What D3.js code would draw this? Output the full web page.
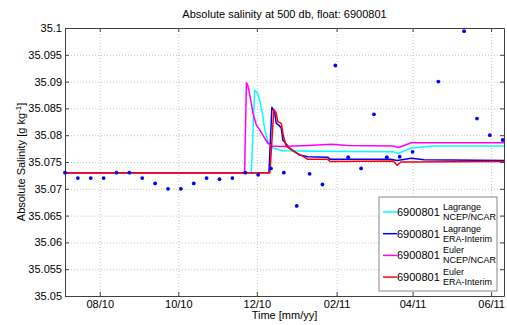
<!DOCTYPE html>
<html>
<head>
<meta charset="utf-8">
<script src="https://cdn.jsdelivr.net/npm/d3@7"></script>
<style>
  body { margin: 0; background: #fff; }
  svg { font-family: "Liberation Sans", Arial, sans-serif; }
</style>
</head>
<body>
<svg id="chart" width="507" height="325"></svg>
<script>
// float profiles (10 day cycle), null = no value in range
var profileDates = ["2010-07-05", "2010-07-15", "2010-07-25", "2010-08-04", "2010-08-14", "2010-08-24",
  "2010-09-03", "2010-09-13", "2010-09-23", "2010-10-03", "2010-10-13", "2010-10-23", "2010-11-02",
  "2010-11-12", "2010-11-22", "2010-12-02", "2010-12-12", "2010-12-22", "2011-01-01", "2011-01-11",
  "2011-01-21", "2011-01-31", "2011-02-10", "2011-02-20", "2011-03-02", "2011-03-12", "2011-03-22",
  "2011-04-01", "2011-04-11", "2011-04-21", "2011-05-01", "2011-05-11", "2011-05-21", "2011-05-31",
  "2011-06-10"];
var profileSA = [35.073, 35.072, 35.072, 35.072, 35.073, 35.073, 35.072, 35.071, 35.070, 35.070,
  35.071, 35.072, 35.0718, 35.072, 35.073, 35.0726, 35.0738, 35.073, 35.0668, 35.0728, 35.0708,
  35.093, 35.0759, 35.0738, 35.0839, 35.0759, 35.076, 35.0769, null, 35.090, null, 35.0994,
  35.0831, 35.080, 35.0791];

// simulated series [time, SA]
var lagrangeNcep = [["2010-07-05 00", 35.073], ["2010-11-26 17", 35.073], ["2010-11-29 07", 35.0884],
  ["2010-12-01 19", 35.0878], ["2010-12-03 17", 35.0860], ["2010-12-05 07", 35.0841],
  ["2010-12-07 00", 35.0813], ["2010-12-09 14", 35.0788], ["2010-12-13 12", 35.0776],
  ["2010-12-21 05", 35.0771], ["2011-01-15 00", 35.0770], ["2011-03-17 00", 35.0769],
  ["2011-03-21 00", 35.0766], ["2011-03-31 00", 35.0776], ["2011-04-16 00", 35.0780],
  ["2011-06-11 00", 35.0780]];
var lagrangeEra = [["2010-07-05 00", 35.073], ["2010-12-10 10", 35.073], ["2010-12-12 17", 35.0852],
  ["2010-12-14 19", 35.0844], ["2010-12-16 02", 35.0822], ["2010-12-18 02", 35.0819],
  ["2010-12-20 00", 35.0813], ["2010-12-21 05", 35.0791], ["2010-12-26 10", 35.0776],
  ["2011-01-03 05", 35.0763], ["2011-01-09 14", 35.0760], ["2011-01-25 00", 35.0759],
  ["2011-01-27 00", 35.0755], ["2011-03-15 00", 35.0755], ["2011-03-20 00", 35.0753],
  ["2011-03-31 00", 35.0757], ["2011-04-10 00", 35.0754], ["2011-06-11 00", 35.0753]];
var eulerNcep = [["2010-07-05 00", 35.073], ["2010-11-21 12", 35.073], ["2010-11-22 22", 35.0898],
  ["2010-11-24 02", 35.0892], ["2010-11-25 10", 35.0876], ["2010-11-26 17", 35.0860],
  ["2010-11-28 00", 35.0841], ["2010-11-30 14", 35.0819], ["2010-12-03 05", 35.0810],
  ["2010-12-05 17", 35.0800], ["2010-12-09 14", 35.0785], ["2010-12-12 05", 35.0780],
  ["2010-12-20 00", 35.0779], ["2011-01-10 00", 35.0781], ["2011-01-28 00", 35.0783],
  ["2011-02-10 00", 35.0781], ["2011-03-17 00", 35.0780], ["2011-03-21 00", 35.0777],
  ["2011-03-31 00", 35.0786], ["2011-06-11 00", 35.0786]];
var eulerEra = [["2010-07-05 00", 35.073], ["2010-12-11 05", 35.073], ["2010-12-14 05", 35.0848],
  ["2010-12-16 02", 35.0841], ["2010-12-17 07", 35.0825], ["2010-12-20 00", 35.0822],
  ["2010-12-21 19", 35.0797], ["2010-12-23 22", 35.0779], ["2010-12-30 07", 35.0769],
  ["2011-01-05 17", 35.0761], ["2011-01-09 14", 35.0755], ["2011-01-25 00", 35.0755],
  ["2011-01-27 00", 35.0751], ["2011-03-17 00", 35.0752], ["2011-03-20 00", 35.0744],
  ["2011-03-23 00", 35.0750], ["2011-06-11 00", 35.0751]];

var seriesNames = ["Lagrange|NCEP/NCAR", "Lagrange|ERA-Interim", "Euler|NCEP/NCAR", "Euler|ERA-Interim"];
var seriesColors = ["#00ffff", "#0000ff", "#ff00ff", "#ff0000"];
var floatId = "6900801";

var xTicks = ["2010-08-01", "2010-10-01", "2010-12-01", "2011-02-01", "2011-04-01", "2011-06-01"];
var xTickLabels = ["08/10", "10/10", "12/10", "02/11", "04/11", "06/11"];
var yTicks = [35.05, 35.055, 35.06, 35.065, 35.07, 35.075, 35.08, 35.085, 35.09, 35.095, 35.1];
var yTickLabels = ["35.05", "35.055", "35.06", "35.065", "35.07", "35.075", "35.08", "35.085", "35.09", "35.095", "35.1"];

var parseDay = d3.timeParse("%Y-%m-%d"),
    parseHour = d3.timeParse("%Y-%m-%d %H");

var margin = { top: 28, right: 3, bottom: 29, left: 65 };
var svg = d3.select("#chart");
var width = 507 - margin.left - margin.right,
    height = 325 - margin.top - margin.bottom;

var x = d3.scaleTime()
    .domain([parseDay("2010-07-05"), parseDay("2011-06-11")])
    .range([0, width]);
var y = d3.scaleLinear().domain([35.05, 35.1]).range([height, 0]);

var g = svg.append("g")
    .attr("transform", "translate(" + margin.left + "," + margin.top + ")");

g.append("defs").append("clipPath").attr("id", "clip")
  .append("rect").attr("width", width).attr("height", height);

var xTickDates = xTicks.map(parseDay);

// grid
g.append("g")
  .attr("transform", "translate(0," + height + ")")
  .call(d3.axisBottom(x).tickValues(xTickDates).tickSize(-height).tickFormat(""))
  .call(function(s) {
    s.select(".domain").remove();
    s.selectAll("line").attr("stroke", "#c4c4c4").attr("stroke-dasharray", "1,2");
  });
g.append("g")
  .call(d3.axisLeft(y).tickValues(yTicks).tickSize(-width).tickFormat(""))
  .call(function(s) {
    s.select(".domain").remove();
    s.selectAll("line").attr("stroke", "#c4c4c4").attr("stroke-dasharray", "1,2");
  });

// lines
var line = d3.line()
    .x(function(d) { return x(parseHour(d[0])); })
    .y(function(d) { return y(d[1]); });

var plot = g.append("g").attr("clip-path", "url(#clip)");
[lagrangeNcep, lagrangeEra, eulerNcep, eulerEra].forEach(function(s, i) {
  plot.append("path")
    .datum(s)
    .attr("fill", "none")
    .attr("stroke", seriesColors[i])
    .attr("stroke-width", 1.5)
    .attr("stroke-linejoin", "round")
    .attr("d", line);
});

// axes (box with inward ticks)
function styleAxis(s) {
  s.select(".domain").attr("stroke", "#404040");
  s.selectAll(".tick line").attr("stroke", "#404040");
  s.selectAll("text").attr("fill", "#000").attr("font-size", 11);
}
g.append("g")
  .attr("transform", "translate(0," + height + ")")
  .call(d3.axisBottom(x).tickValues(xTickDates).tickSize(-4).tickSizeOuter(0).tickPadding(4)
    .tickFormat(function(d, i) { return xTickLabels[i]; }))
  .call(styleAxis);
g.append("g")
  .call(d3.axisTop(x).tickValues(xTickDates).tickSize(-4).tickSizeOuter(0).tickFormat(""))
  .call(styleAxis);
g.append("g")
  .call(d3.axisLeft(y).tickValues(yTicks).tickSize(-4).tickSizeOuter(0).tickPadding(3)
    .tickFormat(function(d, i) { return yTickLabels[i]; }))
  .call(styleAxis);
g.append("g")
  .attr("transform", "translate(" + width + ",0)")
  .call(d3.axisRight(y).tickValues(yTicks).tickSize(-4).tickSizeOuter(0).tickFormat(""))
  .call(styleAxis);

// profile points (not clipped, matlab draws markers over the axes)
var points = profileDates.map(function(d, i) { return { t: parseDay(d), v: profileSA[i] }; })
    .filter(function(d) { return d.v !== null; });
g.selectAll("circle.pt")
  .data(points)
  .enter().append("circle")
    .attr("class", "pt")
    .attr("cx", function(d) { return x(d.t); })
    .attr("cy", function(d) { return y(d.v); })
    .attr("r", 1.9)
    .attr("fill", "#0000ff");

// title and labels
svg.append("text")
  .attr("x", margin.left + width / 2).attr("y", 18)
  .attr("text-anchor", "middle").attr("font-size", 11)
  .text("Absolute salinity at 500 db, float: " + floatId);

svg.append("text")
  .attr("x", margin.left + width / 2).attr("y", 319)
  .attr("text-anchor", "middle").attr("font-size", 11)
  .text("Time [mm/yy]");

var yl = svg.append("text")
  .attr("transform", "translate(25," + (margin.top + height / 2) + ") rotate(-90)")
  .attr("text-anchor", "middle").attr("font-size", 11);
yl.append("tspan").text("Absolute Salinity [g kg");
yl.append("tspan").attr("font-size", 8).attr("dy", -4).text("-1");
yl.append("tspan").attr("dy", 4).text("]");

// legend
var lg = svg.append("g").attr("transform", "translate(379,197)");
lg.append("rect")
  .attr("width", 118).attr("height", 94)
  .attr("fill", "#fff").attr("stroke", "#888").attr("stroke-width", 1);
seriesNames.forEach(function(n, i) {
  var row = lg.append("g").attr("transform", "translate(0," + (15 + i * 21.7) + ")");
  row.append("line")
    .attr("x1", 4).attr("x2", 18).attr("y1", 0).attr("y2", 0)
    .attr("stroke", seriesColors[i]).attr("stroke-width", 1.5);
  row.append("text").attr("x", 18).attr("y", 4).attr("font-size", 11).text(floatId);
  var parts = n.split("|");
  row.append("text").attr("x", 64).attr("y", -2).attr("font-size", 9).text(parts[0]);
  row.append("text").attr("x", 64).attr("y", 8).attr("font-size", 9).text(parts[1]);
});
</script>
</body>
</html>
